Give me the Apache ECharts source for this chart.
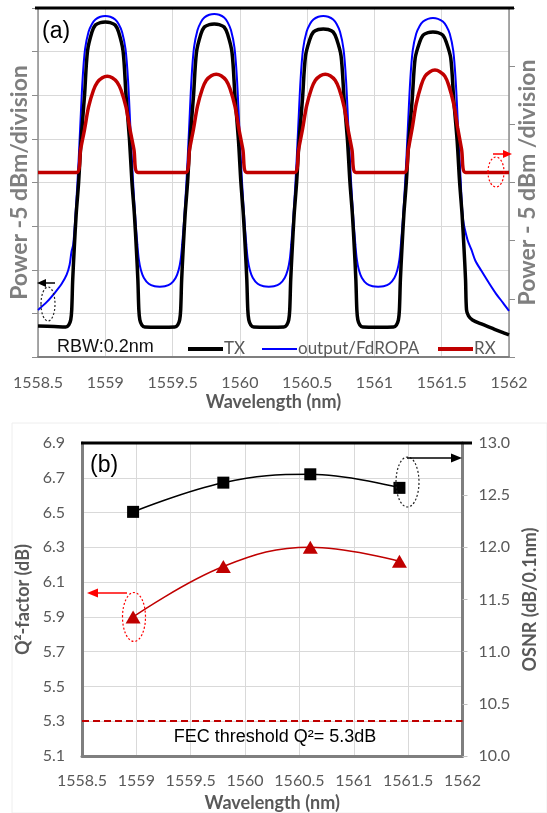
<!DOCTYPE html>
<html><head><meta charset="utf-8">
<script src="https://cdn.jsdelivr.net/npm/echarts/dist/echarts.min.js"></script>
<style>html,body{margin:0;padding:0;background:#fff}#c{width:547px;height:813px}</style>
</head><body><div id="c"></div>
<script>
// ---------- Panel (a): spectra [wavelength nm, relative power dB] ----------
const txData = [
[1558.5,3.56],[1558.62,3.50],[1558.7065,3.45],[1558.7285,3.68],[1558.7432,4.25],[1558.7506,5.40],[1558.7579,8.85],[1558.7689,12.30],[1558.7836,16.32],[1558.8019,20.00],[1558.8203,24.94],[1558.8459,30.00],[1558.8679,35.06],[1558.9010,37.24],[1558.9266,38.05],[1558.9633,38.33],[1559.0000,38.39],[1559.0367,38.33],[1559.0734,38.05],[1559.0990,37.24],[1559.1321,35.06],[1559.1541,30.00],[1559.1797,24.94],[1559.1981,20.00],[1559.2164,16.32],[1559.2311,12.30],[1559.2421,8.85],[1559.2494,5.40],[1559.2568,4.25],[1559.2715,3.68],[1559.2935,3.45],[1559.4050,3.42],
[1559.5161,3.45],[1559.5381,3.68],[1559.5528,4.25],[1559.5602,5.40],[1559.5675,8.85],[1559.5785,12.30],[1559.5932,16.32],[1559.6115,20.00],[1559.6299,24.90],[1559.6555,29.90],[1559.6775,34.90],[1559.7106,37.01],[1559.7362,37.82],[1559.7729,38.10],[1559.8096,38.16],[1559.8463,38.10],[1559.8830,37.82],[1559.9086,37.01],[1559.9417,34.90],[1559.9637,29.90],[1559.9893,24.90],[1560.0077,20.00],[1560.0260,16.32],[1560.0407,12.30],[1560.0517,8.85],[1560.0590,5.40],[1560.0664,4.25],[1560.0811,3.68],[1560.1031,3.45],[1560.2150,3.42],
[1560.3265,3.45],[1560.3485,3.68],[1560.3632,4.25],[1560.3706,5.40],[1560.3779,8.85],[1560.3889,12.30],[1560.4036,16.32],[1560.4219,20.00],[1560.4403,24.82],[1560.4659,29.68],[1560.4879,34.50],[1560.5210,36.44],[1560.5466,37.25],[1560.5833,37.53],[1560.6200,37.59],[1560.6567,37.53],[1560.6934,37.25],[1560.7190,36.44],[1560.7521,34.50],[1560.7741,29.68],[1560.7997,24.82],[1560.8181,20.00],[1560.8364,16.32],[1560.8511,12.30],[1560.8621,8.85],[1560.8694,5.40],[1560.8768,4.25],[1560.8915,3.68],[1560.9135,3.45],[1561.0275,3.42],
[1561.1415,3.45],[1561.1635,3.68],[1561.1782,4.25],[1561.1856,5.40],[1561.1929,8.85],[1561.2039,12.30],[1561.2186,16.32],[1561.2369,20.00],[1561.2553,24.77],[1561.2809,29.54],[1561.3029,34.26],[1561.3360,36.09],[1561.3616,36.90],[1561.3983,37.18],[1561.4350,37.24],[1561.4717,37.18],[1561.5084,36.90],[1561.5340,36.09],[1561.5671,34.26],[1561.5891,29.54],[1561.6147,24.77],[1561.6331,20.00],[1561.6514,16.32],[1561.6661,12.30],[1561.6771,8.85],[1561.6844,5.40],[1561.6990,4.71],[1561.7286,4.25],[1561.7946,3.79],[1561.8680,3.33],[1561.9410,2.87],[1562.0000,2.53]
];
const fdropaData = [
[1558.5000,5.40],[1558.5660,6.32],[1558.6250,7.36],[1558.6760,8.39],[1558.7130,9.43],[1558.7350,10.57],[1558.7490,12.07],[1558.7616,12.87],[1558.7762,15.75],[1558.7946,20.34],[1558.8129,26.09],[1558.8313,31.84],[1558.8496,35.29],[1558.8753,37.24],[1558.9010,38.16],[1558.9266,38.68],[1558.9633,38.99],[1559.0000,39.08],[1559.0367,38.99],[1559.0734,38.68],[1559.0990,38.16],[1559.1247,37.24],[1559.1504,35.29],[1559.1687,31.84],[1559.1871,26.09],[1559.2054,20.34],[1559.2238,15.75],[1559.2384,12.87],[1559.2494,11.15],[1559.2641,10.00],[1559.2861,9.08],[1559.3228,8.39],[1559.3668,8.10],[1559.4050,8.05],
[1559.4428,8.10],[1559.4868,8.39],[1559.5235,9.08],[1559.5455,10.00],[1559.5602,11.15],[1559.5712,12.87],[1559.5858,15.75],[1559.6042,20.34],[1559.6225,26.09],[1559.6409,31.95],[1559.6592,35.45],[1559.6849,37.44],[1559.7106,38.38],[1559.7362,38.91],[1559.7729,39.22],[1559.8096,39.31],[1559.8463,39.22],[1559.8830,38.91],[1559.9086,38.38],[1559.9343,37.44],[1559.9600,35.45],[1559.9783,31.95],[1559.9967,26.09],[1560.0150,20.34],[1560.0334,15.75],[1560.0480,12.87],[1560.0590,11.15],[1560.0737,10.00],[1560.0957,9.08],[1560.1324,8.39],[1560.1764,8.10],[1560.2150,8.05],
[1560.2532,8.10],[1560.2972,8.39],[1560.3339,9.08],[1560.3559,10.00],[1560.3706,11.15],[1560.3816,12.87],[1560.3962,15.75],[1560.4146,20.34],[1560.4329,26.09],[1560.4513,31.84],[1560.4696,35.29],[1560.4953,37.24],[1560.5210,38.16],[1560.5466,38.68],[1560.5833,38.99],[1560.6200,39.08],[1560.6567,38.99],[1560.6934,38.68],[1560.7190,38.16],[1560.7447,37.24],[1560.7704,35.29],[1560.7887,31.84],[1560.8071,26.09],[1560.8254,20.34],[1560.8438,15.75],[1560.8584,12.87],[1560.8694,11.15],[1560.8841,10.00],[1560.9061,9.08],[1560.9428,8.39],[1560.9868,8.10],[1561.0275,8.05],
[1561.0682,8.10],[1561.1122,8.39],[1561.1489,9.08],[1561.1709,10.00],[1561.1856,11.15],[1561.1966,12.87],[1561.2112,15.75],[1561.2296,20.34],[1561.2479,26.09],[1561.2663,31.73],[1561.2846,35.13],[1561.3103,37.04],[1561.3360,37.94],[1561.3616,38.45],[1561.3983,38.76],[1561.4350,38.85],[1561.4717,38.76],[1561.5084,38.45],[1561.5340,37.94],[1561.5597,37.04],[1561.5854,35.13],[1561.6037,31.73],[1561.6221,26.09],[1561.6404,20.34],[1561.6588,15.75],[1561.6915,13.45],[1561.7208,12.30],[1561.7502,11.03],[1561.7946,9.89],[1561.8455,8.62],[1561.9042,7.24],[1561.9556,6.21],[1562.0000,5.29]
];
const rxData = [
[1558.5,15.86],[1558.7873,15.86],[1558.8166,17.84],[1558.8460,19.57],[1558.8753,21.47],[1558.9120,22.93],[1558.9413,23.62],[1558.9780,24.01],[1559.0147,24.14],[1559.0514,24.01],[1559.0881,23.62],[1559.1174,22.93],[1559.1541,21.47],[1559.1834,19.57],[1559.2128,17.84],[1559.2421,15.86],
[1559.5969,15.86],[1559.6262,17.84],[1559.6556,19.60],[1559.6849,21.55],[1559.7216,23.06],[1559.7509,23.79],[1559.7876,24.18],[1559.8243,24.31],[1559.8610,24.18],[1559.8977,23.79],[1559.9270,23.06],[1559.9637,21.55],[1559.9930,19.60],[1560.0224,17.84],[1560.0517,15.86],
[1560.4073,15.86],[1560.4366,17.84],[1560.4660,19.60],[1560.4953,21.55],[1560.5320,23.06],[1560.5613,23.79],[1560.5980,24.18],[1560.6347,24.31],[1560.6714,24.18],[1560.7081,23.79],[1560.7374,23.06],[1560.7741,21.55],[1560.8034,19.60],[1560.8328,17.84],[1560.8621,15.86],
[1561.2223,15.86],[1561.2516,17.84],[1561.2810,19.70],[1561.3103,21.75],[1561.3470,23.35],[1561.3763,24.14],[1561.4130,24.53],[1561.4497,24.66],[1561.4864,24.53],[1561.5231,24.14],[1561.5524,23.35],[1561.5891,21.75],[1561.6184,19.70],[1561.6478,17.84],[1561.6771,15.86],[1562.0,15.86]
];
const legendNames = ['TX', 'output/FdROPA', 'RX'];
// ---------- Panel (b) ----------
const channelWl = [1558.97, 1559.80, 1560.60, 1561.42];
const q2Factor  = [5.90, 6.19, 6.30, 6.22];
const osnrVals  = [12.34, 12.62, 12.70, 12.57];
const fecThreshold = 5.3;

const GRAY = '#595959';
const fmtX = v => (Math.abs(v - Math.round(v)) < 1e-6 ? String(Math.round(v)) : v.toFixed(1));
const zip = (a, b) => a.map((x, i) => [x, b[i]]);

const chart = echarts.init(document.getElementById('c'));
const tickFont = {fontFamily: 'Lato', fontSize: 16, color: GRAY};
const nameFont = {fontFamily: 'Lato', fontSize: 18, fontWeight: 'bold', color: GRAY};
const powerNameFont = {fontFamily: 'Lato', fontSize: 23, fontWeight: 'bold', color: '#7f7f7f'};

// manual legend (line sample + text) for panel (a)
const legendStyle = [
  {color: '#000', width: 4, x: 188},
  {color: '#0000ff', width: 2, x: 262},
  {color: '#c00000', width: 4, x: 438}
];
const legendGraphics = [];
legendNames.forEach((n, i) => {
  const s = legendStyle[i];
  legendGraphics.push({type: 'line', shape: {x1: s.x, y1: 349, x2: s.x + 35, y2: 349}, style: {stroke: s.color, lineWidth: s.width}, z: 10});
  legendGraphics.push({type: 'text', x: s.x + 36, y: 349, style: {text: n, fontFamily: 'Lato', fontSize: 17, fill: GRAY, verticalAlign: 'middle'}, z: 10});
});

chart.setOption({
  animation: false,
  backgroundColor: '#fff',
  grid: [
    {left: 36, top: 8, width: 477, height: 349},
    {left: 82, top: 443, width: 389, height: 314}
  ],
  xAxis: [
    {gridIndex: 0, type: 'value', min: 1558.5, max: 1562, interval: 0.5,
     axisLine: {lineStyle: {color: '#7f7f7f', width: 2}}, axisTick: {show: false},
     axisLabel: Object.assign({formatter: fmtX, margin: 18}, tickFont),
     splitLine: {lineStyle: {color: '#d9d9d9'}},
     name: 'Wavelength (nm)', nameLocation: 'middle', nameGap: 36, nameTextStyle: nameFont},
    {gridIndex: 1, type: 'value', min: 1558.5, max: 1562, interval: 0.5,
     axisLine: {lineStyle: {color: '#7f7f7f', width: 3}}, axisTick: {show: false},
     axisLabel: Object.assign({formatter: fmtX, margin: 17}, tickFont),
     splitLine: {lineStyle: {color: '#d9d9d9'}},
     name: 'Wavelength (nm)', nameLocation: 'middle', nameGap: 38, nameTextStyle: nameFont}
  ],
  yAxis: [
    {gridIndex: 0, type: 'value', min: 0, max: 40, interval: 5, position: 'left',
     axisLine: {show: true, lineStyle: {color: '#8c8c8c', width: 1.5}},
     axisTick: {show: true, length: 6, lineStyle: {color: '#8c8c8c'}},
     axisLabel: {show: false}, splitLine: {lineStyle: {color: '#d9d9d9'}},
     name: 'Power -5 dBm/division', nameLocation: 'middle', nameGap: 7, nameTextStyle: powerNameFont},
    {gridIndex: 0, type: 'value', min: 0, max: 30, interval: 5, position: 'right',
     axisLine: {show: true, lineStyle: {color: '#8c8c8c', width: 1.5}},
     axisTick: {show: true, length: 6, lineStyle: {color: '#8c8c8c'}},
     axisLabel: {show: false}, splitLine: {show: false},
     name: 'Power - 5 dBm /division', nameLocation: 'middle', nameGap: 7, nameRotate: 90, nameTextStyle: powerNameFont},
    {gridIndex: 1, type: 'value', min: 5.1, max: 6.9, interval: 0.2, position: 'left',
     axisLine: {show: true, lineStyle: {color: '#7f7f7f', width: 3}}, axisTick: {show: false},
     axisLabel: Object.assign({formatter: v => v.toFixed(1), margin: 17}, tickFont),
     splitLine: {lineStyle: {color: '#d9d9d9'}},
     name: 'Q²-factor (dB)', nameLocation: 'middle', nameGap: 50, nameTextStyle: nameFont},
    {gridIndex: 1, type: 'value', min: 10, max: 13, interval: 0.5, position: 'right',
     axisLine: {show: true, lineStyle: {color: '#7f7f7f', width: 3}},
     axisTick: {show: true, length: 5, lineStyle: {color: '#bfbfbf'}},
     axisLabel: Object.assign({formatter: v => v.toFixed(1), margin: 16}, tickFont),
     splitLine: {show: false},
     name: 'OSNR (dB/0.1nm)', nameLocation: 'middle', nameGap: 51, nameRotate: 90, nameTextStyle: nameFont}
  ],
  series: [
    {name: legendNames[1], type: 'line', xAxisIndex: 0, yAxisIndex: 0, data: fdropaData,
     symbol: 'none', smooth: 0.3, color: '#0000ff', lineStyle: {color: '#0000ff', width: 2}, z: 2},
    {name: legendNames[0], type: 'line', xAxisIndex: 0, yAxisIndex: 0, data: txData,
     symbol: 'none', smooth: 0.3, color: '#000', lineStyle: {color: '#000', width: 3.5}, z: 3},
    {name: legendNames[2], type: 'line', xAxisIndex: 0, yAxisIndex: 1, data: rxData,
     symbol: 'none', smooth: 0.3, color: '#c00000', lineStyle: {color: '#c00000', width: 3.5}, z: 4},
    {name: 'Q2', type: 'line', xAxisIndex: 1, yAxisIndex: 2, data: zip(channelWl, q2Factor),
     symbol: 'triangle', symbolSize: [15, 13], smooth: 0.4,
     itemStyle: {color: '#c00000'}, lineStyle: {color: '#c00000', width: 1.5},
     markLine: {silent: true, symbol: 'none', label: {show: false},
       lineStyle: {color: '#c00000', type: [7, 4], width: 2}, data: [{yAxis: fecThreshold}]}},
    {name: 'OSNR', type: 'line', xAxisIndex: 1, yAxisIndex: 3, data: zip(channelWl, osnrVals),
     symbol: 'rect', symbolSize: 12, smooth: 0.4,
     itemStyle: {color: '#000'}, lineStyle: {color: '#000', width: 1.5}}
  ],
  graphic: [
    {type: 'rect', shape: {x: 12, y: 423, width: 535, height: 390}, style: {fill: 'none', stroke: '#eeeeee', lineWidth: 1}, z: 0},
    {type: 'line', shape: {x1: 35, y1: 8, x2: 514, y2: 8}, style: {stroke: '#000', lineWidth: 3}, z: 10},
    {type: 'line', shape: {x1: 81, y1: 443, x2: 472, y2: 443}, style: {stroke: '#000', lineWidth: 3}, z: 10},
    {type: 'text', left: 42, top: 20, style: {text: '(a)', fontFamily: 'Liberation Sans', fontSize: 23, fill: '#000'}, z: 10},
    {type: 'text', left: 90, top: 454, style: {text: '(b)', fontFamily: 'Liberation Sans', fontSize: 23, fill: '#000'}, z: 10},
    {type: 'text', left: 57, top: 338, style: {text: 'RBW:0.2nm', fontFamily: 'Liberation Sans', fontSize: 18, fill: '#111'}, z: 10},
    {type: 'text', x: 275, y: 737, style: {text: 'FEC threshold Q²= 5.3dB', fontFamily: 'Liberation Sans', fontSize: 18, fill: '#000', align: 'center', verticalAlign: 'middle'}, z: 10},
    // panel (a) annotations
    {type: 'ellipse', shape: {cx: 48, cy: 304, rx: 7, ry: 17}, style: {fill: 'none', stroke: '#222', lineWidth: 1.2, lineDash: [2, 2]}, z: 10},
    {type: 'line', shape: {x1: 45, y1: 283, x2: 55, y2: 283}, style: {stroke: '#000', lineWidth: 1.5}, z: 10},
    {type: 'polygon', shape: {points: [[37, 283], [46, 279], [46, 287]]}, style: {fill: '#000'}, z: 10},
    {type: 'ellipse', shape: {cx: 496, cy: 172, rx: 8, ry: 15}, style: {fill: 'none', stroke: '#ff0000', lineWidth: 1.2, lineDash: [2, 2]}, z: 10},
    {type: 'line', shape: {x1: 493, y1: 154, x2: 504, y2: 154}, style: {stroke: '#ff0000', lineWidth: 1.5}, z: 10},
    {type: 'polygon', shape: {points: [[512, 154], [503, 150], [503, 158]]}, style: {fill: '#ff0000'}, z: 10},
    // panel (b) annotations
    {type: 'ellipse', shape: {cx: 407.5, cy: 482, rx: 11.5, ry: 25}, style: {fill: 'none', stroke: '#222', lineWidth: 1.2, lineDash: [2, 2]}, z: 10},
    {type: 'line', shape: {x1: 407, y1: 458, x2: 453, y2: 458}, style: {stroke: '#000', lineWidth: 1.5}, z: 10},
    {type: 'polygon', shape: {points: [[462, 458], [451, 453.5], [451, 462.5]]}, style: {fill: '#000'}, z: 10},
    {type: 'ellipse', shape: {cx: 134, cy: 617, rx: 11.5, ry: 24.5}, style: {fill: 'none', stroke: '#ff0000', lineWidth: 1.2, lineDash: [2, 2]}, z: 10},
    {type: 'line', shape: {x1: 127, y1: 593, x2: 96, y2: 593}, style: {stroke: '#ff0000', lineWidth: 1.5}, z: 10},
    {type: 'polygon', shape: {points: [[87, 593], [98, 588.5], [98, 597.5]]}, style: {fill: '#ff0000'}, z: 10}
  ].concat(legendGraphics)
});
</script></body></html>
